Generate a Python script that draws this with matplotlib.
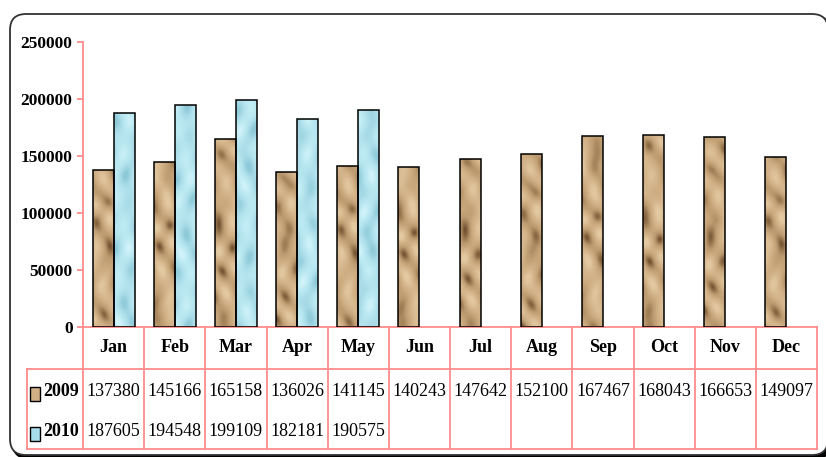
import numpy as np
import matplotlib
matplotlib.use("Agg")
import matplotlib.pyplot as plt
from matplotlib.patches import FancyBboxPatch, Rectangle
from matplotlib.colors import LinearSegmentedColormap
from matplotlib.transforms import blended_transform_factory

plt.rcParams["font.family"] = ["Liberation Serif", "DejaVu Serif"]

# ==========================
# data
# ==========================
months = ["Jan", "Feb", "Mar", "Apr", "May", "Jun",
          "Jul", "Aug", "Sep", "Oct", "Nov", "Dec"]
sales_2009 = [137380, 145166, 165158, 136026, 141145, 140243,
              147642, 152100, 167467, 168043, 166653, 149097]
sales_2010 = [187605, 194548, 199109, 182181, 190575]
series_names = ["2009", "2010"]
y_ticks = [0, 50000, 100000, 150000, 200000, 250000]

pink = "#FF8C8C"
sand_cmap = LinearSegmentedColormap.from_list(
    "sand", ["#6E4E30", "#9A7850", "#BC9A70", "#CBA97F", "#D6B78D", "#E4CBA4"])
water_cmap = LinearSegmentedColormap.from_list(
    "water", ["#8CC8D8", "#A6DAE6", "#B4E4EE", "#BDEAF3", "#D2F3F9"])


def sand_texture(k):
    yy, xx = np.mgrid[0:570, 0:42].astype(float)
    ph = k * 1.7
    v = np.sin((xx * 0.55 + yy * 0.35) / 6.0 + 1.8 * np.sin(yy / 40 + ph) + ph)
    v += 0.5 * np.sin(yy / 18.0 - xx / 8.0 + 2 * ph)
    v += 0.3 * np.sin(xx / 7.0 + np.sin(yy / 26 + ph) * 3)
    t = (v - v.min()) / (v.max() - v.min())
    t = t ** 0.7
    return sand_cmap(t)[..., :3]


def water_texture(k):
    yy, xx = np.mgrid[0:570, 0:42].astype(float)
    ph = k * 2.3
    v = np.sin(xx / 8.0 + 2.0 * np.sin(yy / 36 + ph))
    v += 0.6 * np.sin(yy / 14.0 + xx / 11.0 + ph)
    v += 0.4 * np.cos((xx - yy) / 10.0 + 3 * ph)
    t = (v - v.min()) / (v.max() - v.min())
    return water_cmap(t)[..., :3]


fig = plt.figure(figsize=(8.26, 4.57), dpi=100)

# rounded frame behind everything, in pixel units
bg = fig.add_axes([0, 0, 1, 1], zorder=0)
bg.set_xlim(0, 826)
bg.set_ylim(457, 0)
bg.axis("off")
bg.add_patch(FancyBboxPatch((13, 17), 818, 441,
                            boxstyle="round,pad=0,rounding_size=16",
                            fc="black", ec="black", lw=2))
bg.add_patch(FancyBboxPatch((10, 14), 818, 441,
                            boxstyle="round,pad=0,rounding_size=16",
                            fc="white", ec="#333333", lw=1.3))

ax = fig.add_axes([83 / 826, 130 / 457, 734 / 826, 285 / 457], zorder=1)
ax.set_facecolor("none")

# ==========================
# bars with texture fill
# ==========================
x = np.arange(len(months))
w = 0.343
ymax = y_ticks[-1]

bars09 = ax.bar(x - w / 2, sales_2009, w, fc="none", ec="black", lw=1.1, zorder=3)
bars10 = ax.bar(x[:len(sales_2010)] + w / 2, sales_2010, w,
                fc="none", ec="black", lw=1.1, zorder=3)

for bars, tex_fn in [(bars09, sand_texture), (bars10, water_texture)]:
    for i, rect in enumerate(bars):
        x0 = rect.get_x()
        im = ax.imshow(tex_fn(i), extent=[x0, x0 + rect.get_width(), 0, ymax],
                       origin="lower", aspect="auto", interpolation="bilinear",
                       zorder=2)
        im.set_clip_path(rect)

ax.set_xlim(-0.5, len(months) - 0.5)
ax.set_ylim(0, ymax)

# axes styling
for side in ["top", "right"]:
    ax.spines[side].set_visible(False)
for side in ["left", "bottom"]:
    ax.spines[side].set_color(pink)
    ax.spines[side].set_linewidth(1.3)
ax.set_xticks([])
ax.set_yticks(y_ticks, labels=[str(t) for t in y_ticks])
ax.tick_params(axis="y", color=pink, width=1.3, length=4.5, pad=3, labelsize=12.5)
for lbl in ax.get_yticklabels():
    lbl.set_fontweight("bold")

# ==========================
# data table under the axis
# ==========================
trans = blended_transform_factory(ax.transData, ax.transAxes)
px = 285.0
row1 = -42 / px
row2 = -122 / px
xl = -0.5 - 56 / 61.17
right = len(months) - 0.5

for xb in np.arange(-0.5, len(months)):
    ax.plot([xb, xb], [0, row2], transform=trans, clip_on=False, color=pink, lw=1.3)
ax.plot([xl, xl], [row1, row2], transform=trans, clip_on=False, color=pink, lw=1.3)
ax.plot([xl, right], [row1, row1], transform=trans, clip_on=False, color=pink, lw=1.3)
ax.plot([xl, right], [row2, row2], transform=trans, clip_on=False, color=pink, lw=1.3)

for i, m in enumerate(months):
    ax.text(i, -21 / px, m, transform=trans, ha="center", va="center",
            fontsize=13, fontweight="bold")
for i, v in enumerate(sales_2009):
    ax.text(i, -65 / px, str(v), transform=trans, ha="center", va="center",
            fontsize=13)
for i, v in enumerate(sales_2010):
    ax.text(i, -105 / px, str(v), transform=trans, ha="center", va="center",
            fontsize=13)

# legend keys inside the table
swatch_x = -0.5 - 53 / 61.17
swatch_w = 10 / 61.17
for name, color, yc in zip(series_names, ["#D2B086", "#A8DEEA"], [-65 / px, -105 / px]):
    ax.add_patch(Rectangle((swatch_x, yc - 9 / px), swatch_w, 14 / px,
                           transform=trans, clip_on=False,
                           fc=color, ec="black", lw=1.0))
    ax.text(-0.5 - 40 / 61.17, yc, name, transform=trans, ha="left", va="center",
            fontsize=13, fontweight="bold")

fig.savefig("out.png", dpi=100)
plt.close(fig)
